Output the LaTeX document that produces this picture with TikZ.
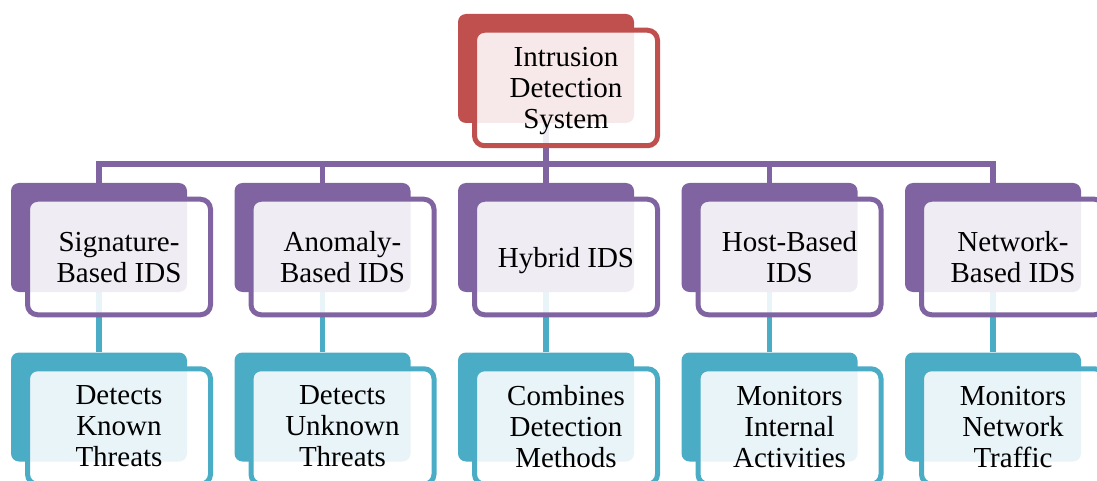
\documentclass[tikz,border=0pt]{standalone}
\usepackage{fontspec}
\setmainfont{Liberation Serif}
\usetikzlibrary{backgrounds}
\definecolor{rootcol}{HTML}{C0504D}
\definecolor{typecol}{HTML}{8064A2}
\definecolor{notecol}{HTML}{4BACC6}
\tikzset{
  plate/.style={rectangle, rounded corners=8pt, minimum width=176pt,
    minimum height=109pt, fill=#1, draw=none},
  card/.style={rectangle, rounded corners=10pt, minimum width=183pt,
    minimum height=115.5pt, draw=#1, line width=5pt, fill=white,
    fill opacity=0.88, text opacity=1, align=center, text depth=0pt,
    font=\fontsize{29}{31}\selectfont},
  link/.style={draw=#1, line width=5.5pt},
}
\begin{document}
\begin{tikzpicture}[x=1pt,y=-1pt]
  \useasboundingbox (0,0) rectangle (1097,481);
  \clip (0,0) rectangle (1097,481);
%%
  % Node: root
  \node[plate=rootcol] (rootplate) at (546,68.5) {};
  \node[card=rootcol] (root) at (566,88) {Intrusion\\Detection\\System};
  % Node: sig
  \node[plate=typecol] (sigplate) at (99,237.5) {};
  \node[card=typecol] (sig) at (119,257) {Signature-\\Based IDS};
  % Node: anom
  \node[plate=typecol] (anomplate) at (322.5,237.5) {};
  \node[card=typecol] (anom) at (342.5,257) {Anomaly-\\Based IDS};
  % Node: hyb
  \node[plate=typecol] (hybplate) at (546,237.5) {};
  \node[card=typecol] (hyb) at (566,257) {Hybrid IDS};
  % Node: host
  \node[plate=typecol] (hostplate) at (769.5,237.5) {};
  \node[card=typecol] (host) at (789.5,257) {Host-Based\\IDS};
  % Node: net
  \node[plate=typecol] (netplate) at (993,237.5) {};
  \node[card=typecol] (net) at (1013,257) {Network-\\Based IDS};
  % Node: known
  \node[plate=notecol] (knownplate) at (99,407) {};
  \node[card=notecol] (known) at (119,426.5) {Detects\\Known\\Threats};
  % Node: unknown
  \node[plate=notecol] (unknownplate) at (322.5,407) {};
  \node[card=notecol] (unknown) at (342.5,426.5) {Detects\\Unknown\\Threats};
  % Node: comb
  \node[plate=notecol] (combplate) at (546,407) {};
  \node[card=notecol] (comb) at (566,426.5) {Combines\\Detection\\Methods};
  % Node: internal
  \node[plate=notecol] (internalplate) at (769.5,407) {};
  \node[card=notecol] (internal) at (789.5,426.5) {Monitors\\Internal\\Activities};
  % Node: traffic
  \node[plate=notecol] (trafficplate) at (993,407) {};
  \node[card=notecol] (traffic) at (1013,426.5) {Monitors\\Network\\Traffic};
%
  \begin{pgfonlayer}{background}
    \coordinate (bus) at (0,164);
    % Edge: root -> types
    \draw[link=typecol] (sigplate.center) -- (sigplate.center |- bus)
      -- (netplate.center |- bus) -- (netplate.center);
    \draw[link=typecol] (rootplate.center) -- (rootplate.center |- bus);
    \draw[link=typecol] (anomplate.center) -- (anomplate.center |- bus);
    \draw[link=typecol] (hybplate.center) -- (hybplate.center |- bus);
    \draw[link=typecol] (hostplate.center) -- (hostplate.center |- bus);
    % Edge: type -> note
    \draw[link=notecol] (sigplate) -- (knownplate);
    \draw[link=notecol] (anomplate) -- (unknownplate);
    \draw[link=notecol] (hybplate) -- (combplate);
    \draw[link=notecol] (hostplate) -- (internalplate);
    \draw[link=notecol] (netplate) -- (trafficplate);
  \end{pgfonlayer}
\end{tikzpicture}
\end{document}
